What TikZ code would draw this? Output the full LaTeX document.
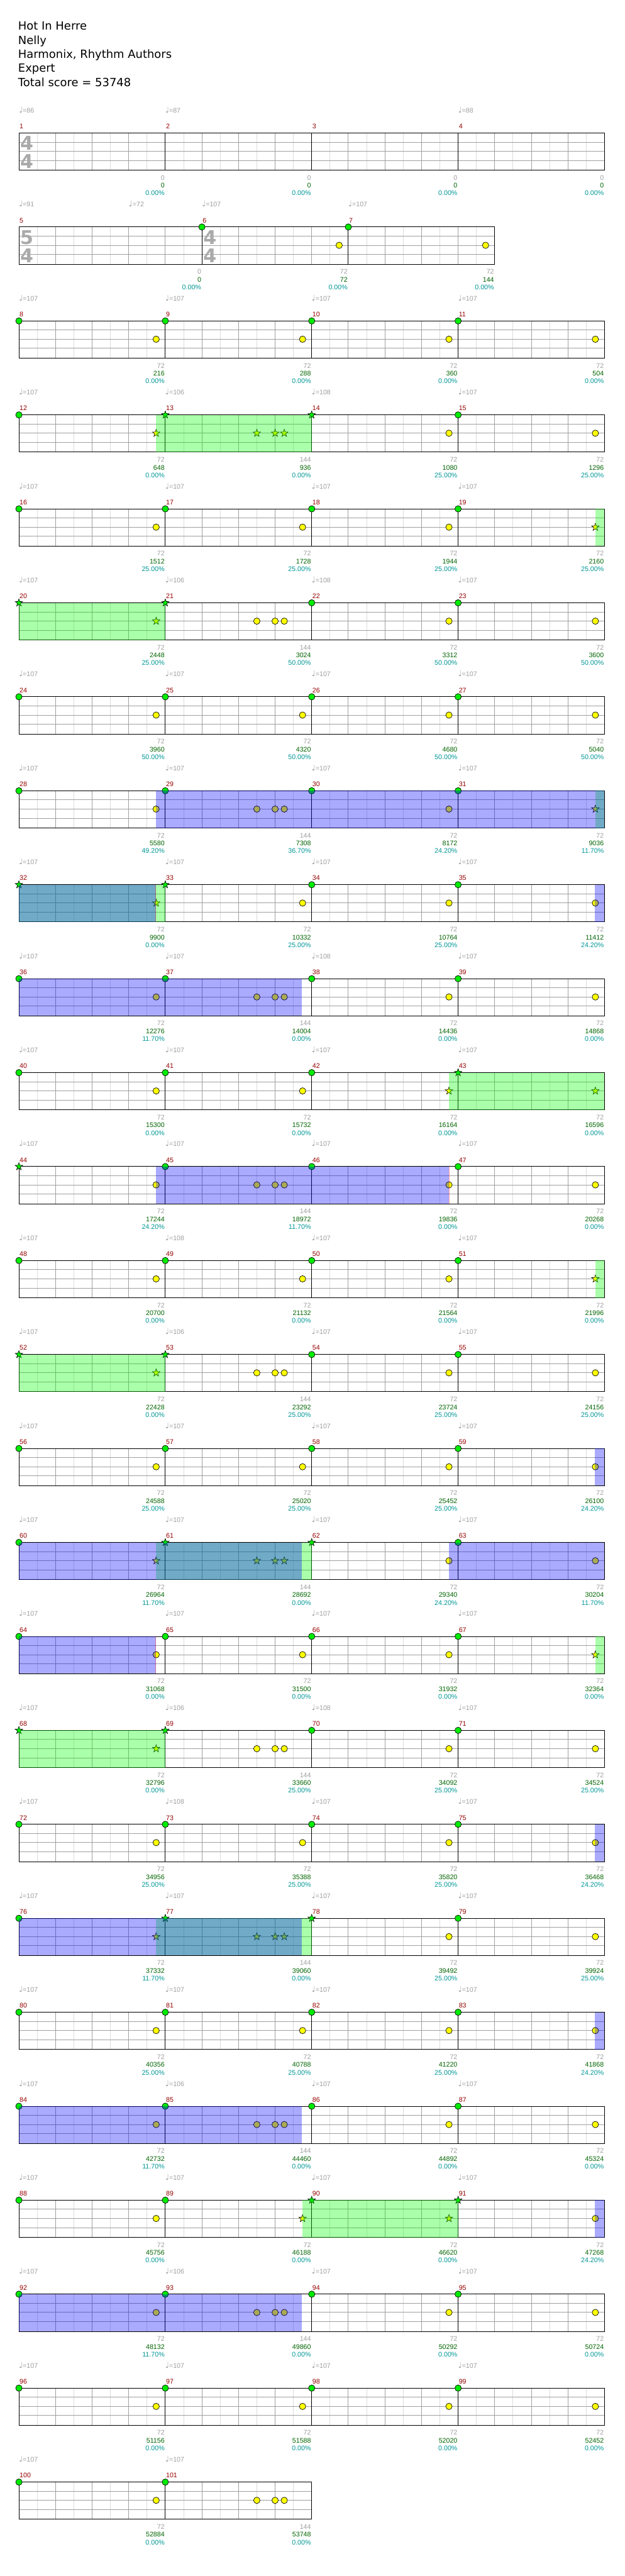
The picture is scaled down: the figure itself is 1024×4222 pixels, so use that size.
\documentclass[tikz,border=0pt]{standalone}
\usepackage{fontspec}
\setmainfont{DejaVu Sans}
\newfontfamily\labfont{Liberation Sans}
\newfontfamily\notefont{DejaVu Sans}
\usetikzlibrary{shapes.geometric}
\definecolor{GridLight}{RGB}{220,220,220}
\definecolor{GridDark}{RGB}{160,160,160}
\definecolor{SigGray}{RGB}{170,170,170}
\definecolor{BarRed}{RGB}{150,0,0}
\definecolor{ScoreGreen}{RGB}{0,100,0}
\definecolor{PctCyan}{RGB}{0,150,150}
\definecolor{NoteGreen}{RGB}{0,235,0}
\definecolor{NoteYellow}{RGB}{255,255,0}
\definecolor{PhraseGreen}{RGB}{0,255,0}
\definecolor{ActiveBlue}{RGB}{0,0,255}

\newcommand{\labsize}{\labfont\fontsize{11}{13}\selectfont}
\newcommand{\quarter}{{\notefont\fontsize{13}{13}\selectfont ♩}}

\tikzset{
  gridlight/.style={draw=GridLight, line width=1pt},
  griddark/.style={draw=GridDark, line width=1pt},
  staffline/.style={draw=black, line width=1pt},
  gnote/.style={circle, draw=black, fill=NoteGreen, line width=0.7pt, minimum size=10.5pt, inner sep=0pt},
  ynote/.style={circle, draw=black, fill=NoteYellow, line width=0.7pt, minimum size=10.5pt, inner sep=0pt},
  gstar/.style={star, star points=5, star point ratio=2.5, draw=black, fill=NoteGreen, line width=0.6pt, minimum size=13pt, inner sep=0pt},
  ystar/.style={star, star points=5, star point ratio=2.5, draw=black, fill=NoteYellow, line width=0.6pt, minimum size=13pt, inner sep=0pt},
  barnum/.style={font=\labsize, text=BarRed, anchor=base west, inner sep=0pt},
  tempo/.style={font=\labsize, text=GridDark, anchor=base west, inner sep=0pt},
  basepts/.style={font=\labsize, text=GridDark, anchor=base east, inner sep=0pt},
  scorepts/.style={font=\labsize, text=ScoreGreen, anchor=base east, inner sep=0pt},
  pctpts/.style={font=\labsize, text=PctCyan, anchor=base east, inner sep=0pt},
  title/.style={font=\fontsize{18.5}{22}\selectfont, anchor=base west, inner sep=0pt},
  timesig/.style={font=\fontsize{31}{31}\selectfont\bfseries, text=SigGray, anchor=base, inner sep=0pt},
  phrase/.style={fill=PhraseGreen, fill opacity=0.333},
  active/.style={fill=ActiveBlue, fill opacity=0.333},
  actend/.style={draw=red, draw opacity=0.35, line width=1pt},
}

% one staff row: top y, right end, bar lines
\newcommand{\staffrow}[3]{%
  \foreach \x in {61,121,...,#2} \draw[gridlight] (\x,#1) -- (\x,#1+61);
  \foreach \x in {91,151,...,#2} \draw[griddark] (\x,#1) -- (\x,#1+61);
  \foreach \dy in {15,30,45} \draw[griddark] (31,#1+\dy) -- (#2,#1+\dy);
  \foreach \x in {#3} \draw[staffline] (\x,#1) -- (\x,#1+61);
  \draw[staffline] (31,#1) rectangle (#2,#1+61);
}

% one measure: number, start x, tempo, kind (E/N/F), top note, lane note, points, score, percent
\newcommand{\drawmeasure}[9]{%
  \node[barnum] (num#1) at (#2+1,\rowy-7) {#1};
  \def\tmptempo{#3}%
  \ifx\tmptempo\empty\else
    \node[tempo] (tempo#1) at (#2,\rowy-33) {\quarter=#3};
  \fi
  \if#4N
    \node[#5] (top#1) at (#2,\rowy) {};
    \node[#6] (lane#1) at (#2+225,\rowy+30) {};
  \fi
  \if#4F
    \node[#5] (top#1) at (#2,\rowy) {};
    \foreach \dx [count=\k] in {150,180,195}
      \node[#6] (lane#1-\k) at (#2+\dx,\rowy+30) {};
  \fi
  \node[basepts] (base#1) at (#2+\mw-1,\rowy+77) {#7};
  \node[scorepts] (score#1) at (#2+\mw-1,\rowy+90) {#8};
  \node[pctpts] (pct#1) at (#2+\mw-1,\rowy+102.5) {#9\%};
}

\begin{document}
\begin{tikzpicture}[x=1pt, y=-1pt]
  \useasboundingbox[fill=white] (0,0) rectangle (1024,4222);

  % Header
  \node[title] (song) at (29.6,49) {Hot In Herre};
  \node[title] (artist) at (29.6,72.3) {Nelly};
  \node[title] (charter) at (29.6,95.5) {Harmonix, Rhythm Authors};
  \node[title] (level) at (29.6,118.5) {Expert};
  \node[title] (total) at (29.6,141.5) {Total score = 53748};

  % Staffs
  \staffrow{218}{991}{271,511,751}
  \staffrow{372}{811}{331,571}
  \foreach \r in {3,...,25} {
    \pgfmathsetmacro\yy{218+154*(\r-1)}
    \staffrow{\yy}{991}{271,511,751}
  }
  \staffrow{4068}{511}{271}

  % Time signatures
  \node[timesig] (sig1a) at (44,246) {4};
  \node[timesig] (sig1b) at (44,276) {4};
  \node[timesig] (sig5a) at (44,400) {5};
  \node[timesig] (sig5b) at (44,430) {4};
  \node[timesig] (sig6a) at (344,400) {4};
  \node[timesig] (sig6b) at (344,430) {4};

  \def\mw{240}
  % Row 1
  \def\rowy{218}
  \drawmeasure{1}{31}{86}{E}{}{}{0}{0}{0.00}
  \drawmeasure{2}{271}{87}{E}{}{}{0}{0}{0.00}
  \drawmeasure{3}{511}{}{E}{}{}{0}{0}{0.00}
  \drawmeasure{4}{751}{88}{E}{}{}{0}{0}{0.00}
  % Row 2
  \def\rowy{372}
  \def\mw{300}
  \drawmeasure{5}{31}{91}{E}{}{}{0}{0}{0.00}
  \def\mw{240}
  \node[tempo] (tempo5b) at (211,\rowy-33) {\quarter=72};
  \drawmeasure{6}{331}{107}{N}{gnote}{ynote}{72}{72}{0.00}
  \drawmeasure{7}{571}{107}{N}{gnote}{ynote}{72}{144}{0.00}
  % Row 3
  \def\rowy{526}
  \drawmeasure{8}{31}{107}{N}{gnote}{ynote}{72}{216}{0.00}
  \drawmeasure{9}{271}{107}{N}{gnote}{ynote}{72}{288}{0.00}
  \drawmeasure{10}{511}{107}{N}{gnote}{ynote}{72}{360}{0.00}
  \drawmeasure{11}{751}{107}{N}{gnote}{ynote}{72}{504}{0.00}
  % Row 4
  \def\rowy{680}
  \drawmeasure{12}{31}{107}{N}{gnote}{ystar}{72}{648}{0.00}
  \drawmeasure{13}{271}{106}{F}{gstar}{ystar}{144}{936}{0.00}
  \drawmeasure{14}{511}{108}{N}{gstar}{ynote}{72}{1080}{25.00}
  \drawmeasure{15}{751}{107}{N}{gnote}{ynote}{72}{1296}{25.00}
  % Row 5
  \def\rowy{834}
  \drawmeasure{16}{31}{107}{N}{gnote}{ynote}{72}{1512}{25.00}
  \drawmeasure{17}{271}{107}{N}{gnote}{ynote}{72}{1728}{25.00}
  \drawmeasure{18}{511}{107}{N}{gnote}{ynote}{72}{1944}{25.00}
  \drawmeasure{19}{751}{107}{N}{gnote}{ystar}{72}{2160}{25.00}
  % Row 6
  \def\rowy{988}
  \drawmeasure{20}{31}{107}{N}{gstar}{ystar}{72}{2448}{25.00}
  \drawmeasure{21}{271}{106}{F}{gstar}{ynote}{144}{3024}{50.00}
  \drawmeasure{22}{511}{108}{N}{gnote}{ynote}{72}{3312}{50.00}
  \drawmeasure{23}{751}{107}{N}{gnote}{ynote}{72}{3600}{50.00}
  % Row 7
  \def\rowy{1142}
  \drawmeasure{24}{31}{107}{N}{gnote}{ynote}{72}{3960}{50.00}
  \drawmeasure{25}{271}{107}{N}{gnote}{ynote}{72}{4320}{50.00}
  \drawmeasure{26}{511}{107}{N}{gnote}{ynote}{72}{4680}{50.00}
  \drawmeasure{27}{751}{107}{N}{gnote}{ynote}{72}{5040}{50.00}
  % Row 8
  \def\rowy{1296}
  \drawmeasure{28}{31}{107}{N}{gnote}{ynote}{72}{5580}{49.20}
  \drawmeasure{29}{271}{107}{F}{gnote}{ynote}{144}{7308}{36.70}
  \drawmeasure{30}{511}{107}{N}{gnote}{ynote}{72}{8172}{24.20}
  \drawmeasure{31}{751}{107}{N}{gnote}{ystar}{72}{9036}{11.70}
  % Row 9
  \def\rowy{1450}
  \drawmeasure{32}{31}{107}{N}{gstar}{ystar}{72}{9900}{0.00}
  \drawmeasure{33}{271}{107}{N}{gstar}{ynote}{72}{10332}{25.00}
  \drawmeasure{34}{511}{107}{N}{gnote}{ynote}{72}{10764}{25.00}
  \drawmeasure{35}{751}{107}{N}{gnote}{ynote}{72}{11412}{24.20}
  % Row 10
  \def\rowy{1604}
  \drawmeasure{36}{31}{107}{N}{gnote}{ynote}{72}{12276}{11.70}
  \drawmeasure{37}{271}{107}{F}{gnote}{ynote}{144}{14004}{0.00}
  \drawmeasure{38}{511}{108}{N}{gnote}{ynote}{72}{14436}{0.00}
  \drawmeasure{39}{751}{107}{N}{gnote}{ynote}{72}{14868}{0.00}
  % Row 11
  \def\rowy{1758}
  \drawmeasure{40}{31}{107}{N}{gnote}{ynote}{72}{15300}{0.00}
  \drawmeasure{41}{271}{107}{N}{gnote}{ynote}{72}{15732}{0.00}
  \drawmeasure{42}{511}{107}{N}{gnote}{ystar}{72}{16164}{0.00}
  \drawmeasure{43}{751}{107}{N}{gstar}{ystar}{72}{16596}{0.00}
  % Row 12
  \def\rowy{1912}
  \drawmeasure{44}{31}{107}{N}{gstar}{ynote}{72}{17244}{24.20}
  \drawmeasure{45}{271}{107}{F}{gnote}{ynote}{144}{18972}{11.70}
  \drawmeasure{46}{511}{107}{N}{gnote}{ynote}{72}{19836}{0.00}
  \drawmeasure{47}{751}{107}{N}{gnote}{ynote}{72}{20268}{0.00}
  % Row 13
  \def\rowy{2066}
  \drawmeasure{48}{31}{107}{N}{gnote}{ynote}{72}{20700}{0.00}
  \drawmeasure{49}{271}{108}{N}{gnote}{ynote}{72}{21132}{0.00}
  \drawmeasure{50}{511}{107}{N}{gnote}{ynote}{72}{21564}{0.00}
  \drawmeasure{51}{751}{107}{N}{gnote}{ystar}{72}{21996}{0.00}
  % Row 14
  \def\rowy{2220}
  \drawmeasure{52}{31}{107}{N}{gstar}{ystar}{72}{22428}{0.00}
  \drawmeasure{53}{271}{106}{F}{gstar}{ynote}{144}{23292}{25.00}
  \drawmeasure{54}{511}{107}{N}{gnote}{ynote}{72}{23724}{25.00}
  \drawmeasure{55}{751}{107}{N}{gnote}{ynote}{72}{24156}{25.00}
  % Row 15
  \def\rowy{2374}
  \drawmeasure{56}{31}{107}{N}{gnote}{ynote}{72}{24588}{25.00}
  \drawmeasure{57}{271}{107}{N}{gnote}{ynote}{72}{25020}{25.00}
  \drawmeasure{58}{511}{107}{N}{gnote}{ynote}{72}{25452}{25.00}
  \drawmeasure{59}{751}{107}{N}{gnote}{ynote}{72}{26100}{24.20}
  % Row 16
  \def\rowy{2528}
  \drawmeasure{60}{31}{107}{N}{gnote}{ystar}{72}{26964}{11.70}
  \drawmeasure{61}{271}{107}{F}{gstar}{ystar}{144}{28692}{0.00}
  \drawmeasure{62}{511}{107}{N}{gstar}{ynote}{72}{29340}{24.20}
  \drawmeasure{63}{751}{107}{N}{gnote}{ynote}{72}{30204}{11.70}
  % Row 17
  \def\rowy{2682}
  \drawmeasure{64}{31}{107}{N}{gnote}{ynote}{72}{31068}{0.00}
  \drawmeasure{65}{271}{107}{N}{gnote}{ynote}{72}{31500}{0.00}
  \drawmeasure{66}{511}{107}{N}{gnote}{ynote}{72}{31932}{0.00}
  \drawmeasure{67}{751}{107}{N}{gnote}{ystar}{72}{32364}{0.00}
  % Row 18
  \def\rowy{2836}
  \drawmeasure{68}{31}{107}{N}{gstar}{ystar}{72}{32796}{0.00}
  \drawmeasure{69}{271}{106}{F}{gstar}{ynote}{144}{33660}{25.00}
  \drawmeasure{70}{511}{108}{N}{gnote}{ynote}{72}{34092}{25.00}
  \drawmeasure{71}{751}{107}{N}{gnote}{ynote}{72}{34524}{25.00}
  % Row 19
  \def\rowy{2990}
  \drawmeasure{72}{31}{107}{N}{gnote}{ynote}{72}{34956}{25.00}
  \drawmeasure{73}{271}{108}{N}{gnote}{ynote}{72}{35388}{25.00}
  \drawmeasure{74}{511}{107}{N}{gnote}{ynote}{72}{35820}{25.00}
  \drawmeasure{75}{751}{107}{N}{gnote}{ynote}{72}{36468}{24.20}
  % Row 20
  \def\rowy{3144}
  \drawmeasure{76}{31}{107}{N}{gnote}{ystar}{72}{37332}{11.70}
  \drawmeasure{77}{271}{107}{F}{gstar}{ystar}{144}{39060}{0.00}
  \drawmeasure{78}{511}{107}{N}{gstar}{ynote}{72}{39492}{25.00}
  \drawmeasure{79}{751}{107}{N}{gnote}{ynote}{72}{39924}{25.00}
  % Row 21
  \def\rowy{3298}
  \drawmeasure{80}{31}{107}{N}{gnote}{ynote}{72}{40356}{25.00}
  \drawmeasure{81}{271}{107}{N}{gnote}{ynote}{72}{40788}{25.00}
  \drawmeasure{82}{511}{107}{N}{gnote}{ynote}{72}{41220}{25.00}
  \drawmeasure{83}{751}{107}{N}{gnote}{ynote}{72}{41868}{24.20}
  % Row 22
  \def\rowy{3452}
  \drawmeasure{84}{31}{107}{N}{gnote}{ynote}{72}{42732}{11.70}
  \drawmeasure{85}{271}{106}{F}{gnote}{ynote}{144}{44460}{0.00}
  \drawmeasure{86}{511}{107}{N}{gnote}{ynote}{72}{44892}{0.00}
  \drawmeasure{87}{751}{107}{N}{gnote}{ynote}{72}{45324}{0.00}
  % Row 23
  \def\rowy{3606}
  \drawmeasure{88}{31}{107}{N}{gnote}{ynote}{72}{45756}{0.00}
  \drawmeasure{89}{271}{107}{N}{gnote}{ystar}{72}{46188}{0.00}
  \drawmeasure{90}{511}{107}{N}{gstar}{ystar}{72}{46620}{0.00}
  \drawmeasure{91}{751}{107}{N}{gstar}{ynote}{72}{47268}{24.20}
  % Row 24
  \def\rowy{3760}
  \drawmeasure{92}{31}{107}{N}{gnote}{ynote}{72}{48132}{11.70}
  \drawmeasure{93}{271}{106}{F}{gnote}{ynote}{144}{49860}{0.00}
  \drawmeasure{94}{511}{107}{N}{gnote}{ynote}{72}{50292}{0.00}
  \drawmeasure{95}{751}{107}{N}{gnote}{ynote}{72}{50724}{0.00}
  % Row 25
  \def\rowy{3914}
  \drawmeasure{96}{31}{107}{N}{gnote}{ynote}{72}{51156}{0.00}
  \drawmeasure{97}{271}{107}{N}{gnote}{ynote}{72}{51588}{0.00}
  \drawmeasure{98}{511}{107}{N}{gnote}{ynote}{72}{52020}{0.00}
  \drawmeasure{99}{751}{107}{N}{gnote}{ynote}{72}{52452}{0.00}
  % Row 26
  \def\rowy{4068}
  \drawmeasure{100}{31}{107}{N}{gnote}{ynote}{72}{52884}{0.00}
  \drawmeasure{101}{271}{107}{F}{gnote}{ynote}{144}{53748}{0.00}

  % Star phrases
  \fill[phrase] (256,680) rectangle (511,741);
  \fill[phrase] (976,834) rectangle (991,895);
  \fill[phrase] (31,988) rectangle (271,1049);
  \fill[phrase] (976,1296) rectangle (991,1357);
  \fill[phrase] (31,1450) rectangle (271,1511);
  \fill[phrase] (736,1758) rectangle (991,1819);
  \fill[phrase] (976,2066) rectangle (991,2127);
  \fill[phrase] (31,2220) rectangle (271,2281);
  \fill[phrase] (256,2528) rectangle (511,2589);
  \fill[phrase] (976,2682) rectangle (991,2743);
  \fill[phrase] (31,2836) rectangle (271,2897);
  \fill[phrase] (256,3144) rectangle (511,3205);
  \fill[phrase] (496,3606) rectangle (751,3667);

  % Activations
  \fill[active] (255.5,1296) rectangle (991,1357);
  \fill[active] (31,1450) rectangle (255.5,1511);
  \fill[active] (975.5,1450) rectangle (991,1511);
  \fill[active] (31,1604) rectangle (495,1665);
  \fill[active] (255.5,1912) rectangle (736,1973);
  \fill[active] (975.5,2374) rectangle (991,2435);
  \fill[active] (31,2528) rectangle (495,2589);
  \fill[active] (735.5,2528) rectangle (991,2589);
  \fill[active] (31,2682) rectangle (255.5,2743);
  \fill[active] (975.5,2990) rectangle (991,3051);
  \fill[active] (31,3144) rectangle (495,3205);
  \fill[active] (975.5,3298) rectangle (991,3359);
  \fill[active] (31,3452) rectangle (495,3513);
  \fill[active] (975.5,3606) rectangle (991,3667);
  \fill[active] (31,3760) rectangle (495,3821);
  \draw[actend] (255.5,1450) -- (255.5,1511);
  \draw[actend] (736,1912) -- (736,1973);
  \draw[actend] (255.5,2682) -- (255.5,2743);
\end{tikzpicture}
\end{document}
